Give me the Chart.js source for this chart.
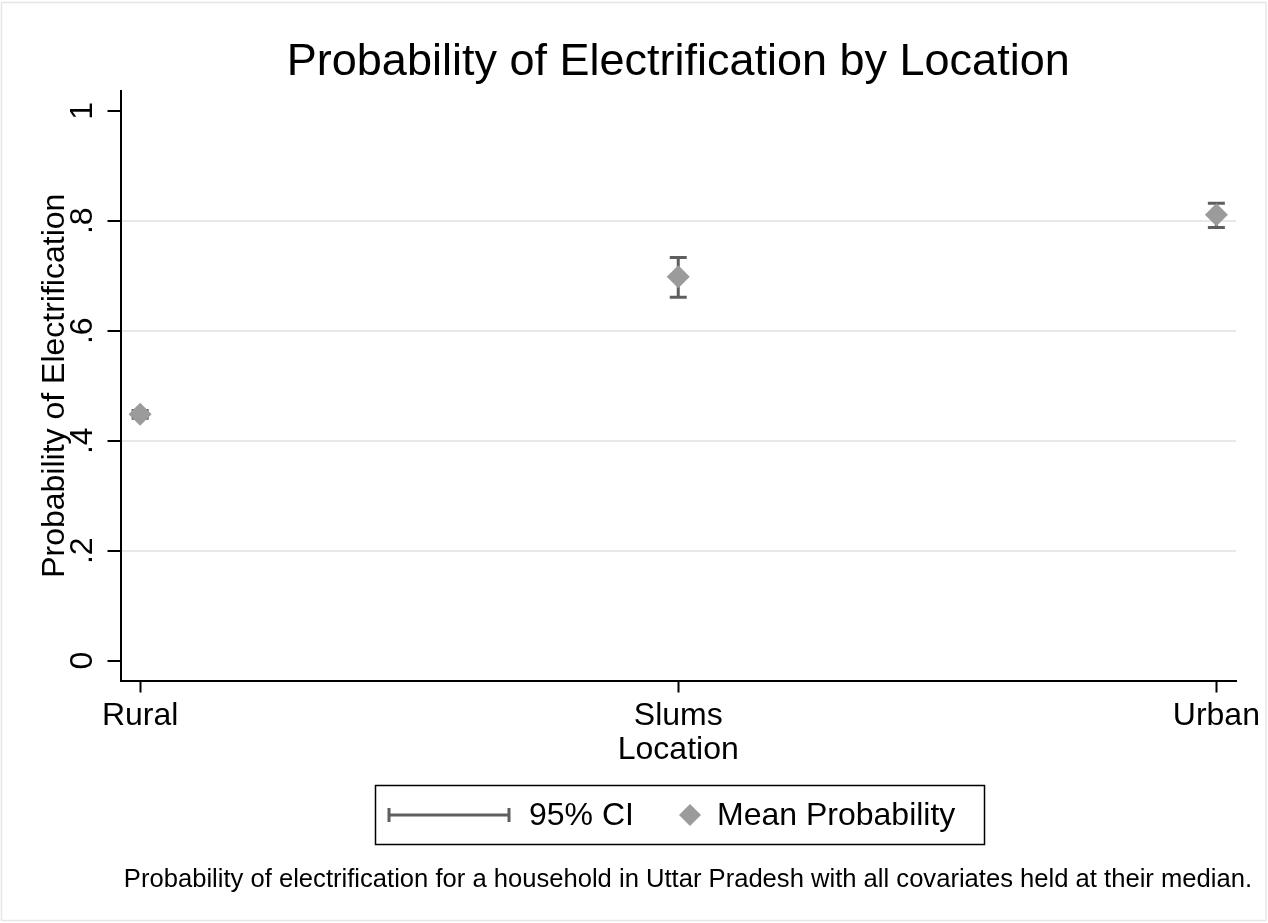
<!DOCTYPE html>
<html>
<head>
<meta charset="utf-8">
<script src="https://cdn.jsdelivr.net/npm/chart.js@4.4.0/dist/chart.umd.min.js"></script>
<style>
  html, body { margin: 0; padding: 0; background: #ffffff; }
  #wrap { width: 1268px; height: 923px; position: relative; }
</style>
</head>
<body>
<div id="wrap"><canvas id="c" width="1268" height="923"></canvas></div>
<script>
// ---- data ----
const categories = ['Rural', 'Slums', 'Urban'];
const meanProb = [0.448, 0.698, 0.811];
const ciLower = [0.441, 0.661, 0.788];
const ciUpper = [0.455, 0.733, 0.832];
const yTicks = [0, 0.2, 0.4, 0.6, 0.8, 1];
const yTickLabels = ['0', '.2', '.4', '.6', '.8', '1'];
const seriesNames = ['95% CI', 'Mean Probability'];
const chartTitle = 'Probability of Electrification by Location';
const xTitle = 'Location';
const yTitle = 'Probability of Electrification';
const noteText = 'Probability of electrification for a household in Uttar Pradesh with all covariates held at their median.';

const FONT = '"Liberation Sans", Arial, Helvetica, sans-serif';
const markerColor = '#9b9b9b';
const ciColor = '#5f5f5f';

const points = categories.map((c, i) => ({ x: i, y: meanProb[i] }));

function drawCIGlyph(ctx, x1, x2, y, capH) {
  ctx.beginPath();
  ctx.moveTo(x1, y); ctx.lineTo(x2, y);
  ctx.moveTo(x1, y - capH / 2); ctx.lineTo(x1, y + capH / 2);
  ctx.moveTo(x2, y - capH / 2); ctx.lineTo(x2, y + capH / 2);
  ctx.stroke();
}

const errorBarPlugin = {
  id: 'errorBars',
  beforeDatasetsDraw(chart) {
    const { ctx, scales: { x, y } } = chart;
    ctx.save();
    ctx.strokeStyle = ciColor;
    ctx.lineWidth = 3;
    ctx.lineCap = 'butt';
    for (let i = 0; i < categories.length; i++) {
      const px = x.getPixelForValue(i);
      const top = y.getPixelForValue(ciUpper[i]);
      const bot = y.getPixelForValue(ciLower[i]);
      ctx.beginPath();
      ctx.moveTo(px, top); ctx.lineTo(px, bot);
      ctx.moveTo(px - 8.5, top); ctx.lineTo(px + 8.5, top);
      ctx.moveTo(px - 8.5, bot); ctx.lineTo(px + 8.5, bot);
      ctx.stroke();
    }
    ctx.restore();
  }
};

const decorPlugin = {
  id: 'decor',
  afterDraw(chart) {
    const { ctx, chartArea, scales: { y } } = chart;
    ctx.save();
    // outer frame
    ctx.strokeStyle = '#e6e6e6';
    ctx.lineWidth = 1.5;
    ctx.strokeRect(1.5, 2.5, 1264.5, 918);
    // title
    ctx.fillStyle = '#000';
    ctx.font = '45px ' + FONT;
    ctx.textAlign = 'center';
    ctx.textBaseline = 'middle';
    ctx.fillText(chartTitle, (chartArea.left + chartArea.right) / 2, 63);
    // rotated y tick labels
    ctx.font = '32px ' + FONT;
    yTicks.forEach((v, i) => {
      const py = y.getPixelForValue(v);
      ctx.save();
      ctx.translate(83, py);
      ctx.rotate(-Math.PI / 2);
      ctx.textAlign = 'center';
      ctx.textBaseline = 'middle';
      ctx.fillText(yTickLabels[i], 0, 0);
      ctx.restore();
    });
    // legend box
    ctx.strokeStyle = '#000';
    ctx.lineWidth = 1.5;
    ctx.strokeRect(375.5, 785.5, 609, 59);
    ctx.strokeStyle = ciColor;
    ctx.lineWidth = 3;
    drawCIGlyph(ctx, 389, 509, 815, 14);
    ctx.fillStyle = '#000';
    ctx.font = '32px ' + FONT;
    ctx.textAlign = 'left';
    ctx.textBaseline = 'middle';
    ctx.fillText(seriesNames[0], 529, 816);
    ctx.fillStyle = markerColor;
    ctx.beginPath();
    ctx.moveTo(690, 804); ctx.lineTo(701, 815); ctx.lineTo(690, 826); ctx.lineTo(679, 815);
    ctx.closePath(); ctx.fill();
    ctx.fillStyle = '#000';
    ctx.fillText(seriesNames[1], 717, 816);
    // note
    ctx.font = '25.6px ' + FONT;
    ctx.textAlign = 'right';
    ctx.fillText(noteText, 1252, 880);
    ctx.restore();
  }
};

new Chart(document.getElementById('c'), {
  type: 'scatter',
  data: {
    datasets: [{
      label: seriesNames[1],
      data: points,
      pointStyle: 'rectRot',
      pointRadius: 11.5,
      pointHoverRadius: 11.5,
      backgroundColor: markerColor,
      borderColor: markerColor,
      borderWidth: 0
    }]
  },
  options: {
    responsive: false,
    animation: false,
    devicePixelRatio: 1,
    layout: { padding: { top: 91, right: 32, left: 0, bottom: 0 } },
    plugins: {
      legend: { display: false },
      title: { display: false },
      tooltip: { enabled: false }
    },
    scales: {
      x: {
        type: 'linear',
        min: -0.0365,
        max: 2.0365,
        afterBuildTicks: (s) => { s.ticks = categories.map((c, i) => ({ value: i })); },
        afterFit: (s) => { s.height = 242.5; },
        ticks: {
          callback: (v) => categories[v],
          color: '#000',
          font: { family: FONT, size: 32 },
          padding: 4,
          maxRotation: 0,
          autoSkip: false
        },
        grid: {
          drawOnChartArea: false,
          drawTicks: true,
          tickLength: 12,
          tickColor: '#000',
          tickWidth: 2
        },
        border: { display: true, color: '#000', width: 2 },
        title: {
          display: true,
          text: xTitle,
          color: '#000',
          font: { family: FONT, size: 32 },
          padding: { top: 0, bottom: 154 }
        }
      },
      y: {
        type: 'linear',
        min: -0.036,
        max: 1.036,
        afterBuildTicks: (s) => { s.ticks = yTicks.map(v => ({ value: v })); },
        afterFit: (s) => { s.width = 120.5; },
        ticks: { display: false },
        grid: {
          drawTicks: true,
          tickLength: 13,
          tickColor: '#000',
          tickWidth: 2,
          lineWidth: 2,
          color: (ctx) => (ctx.tick && ctx.tick.value > 0.01 && ctx.tick.value < 0.99) ? '#e8e8e8' : 'rgba(0,0,0,0)'
        },
        border: { display: true, color: '#000', width: 2 },
        title: {
          display: true,
          text: yTitle,
          color: '#000',
          font: { family: FONT, size: 32 },
          padding: { top: 36, bottom: 0 }
        }
      }
    }
  },
  plugins: [errorBarPlugin, decorPlugin]
});
</script>
</body>
</html>
